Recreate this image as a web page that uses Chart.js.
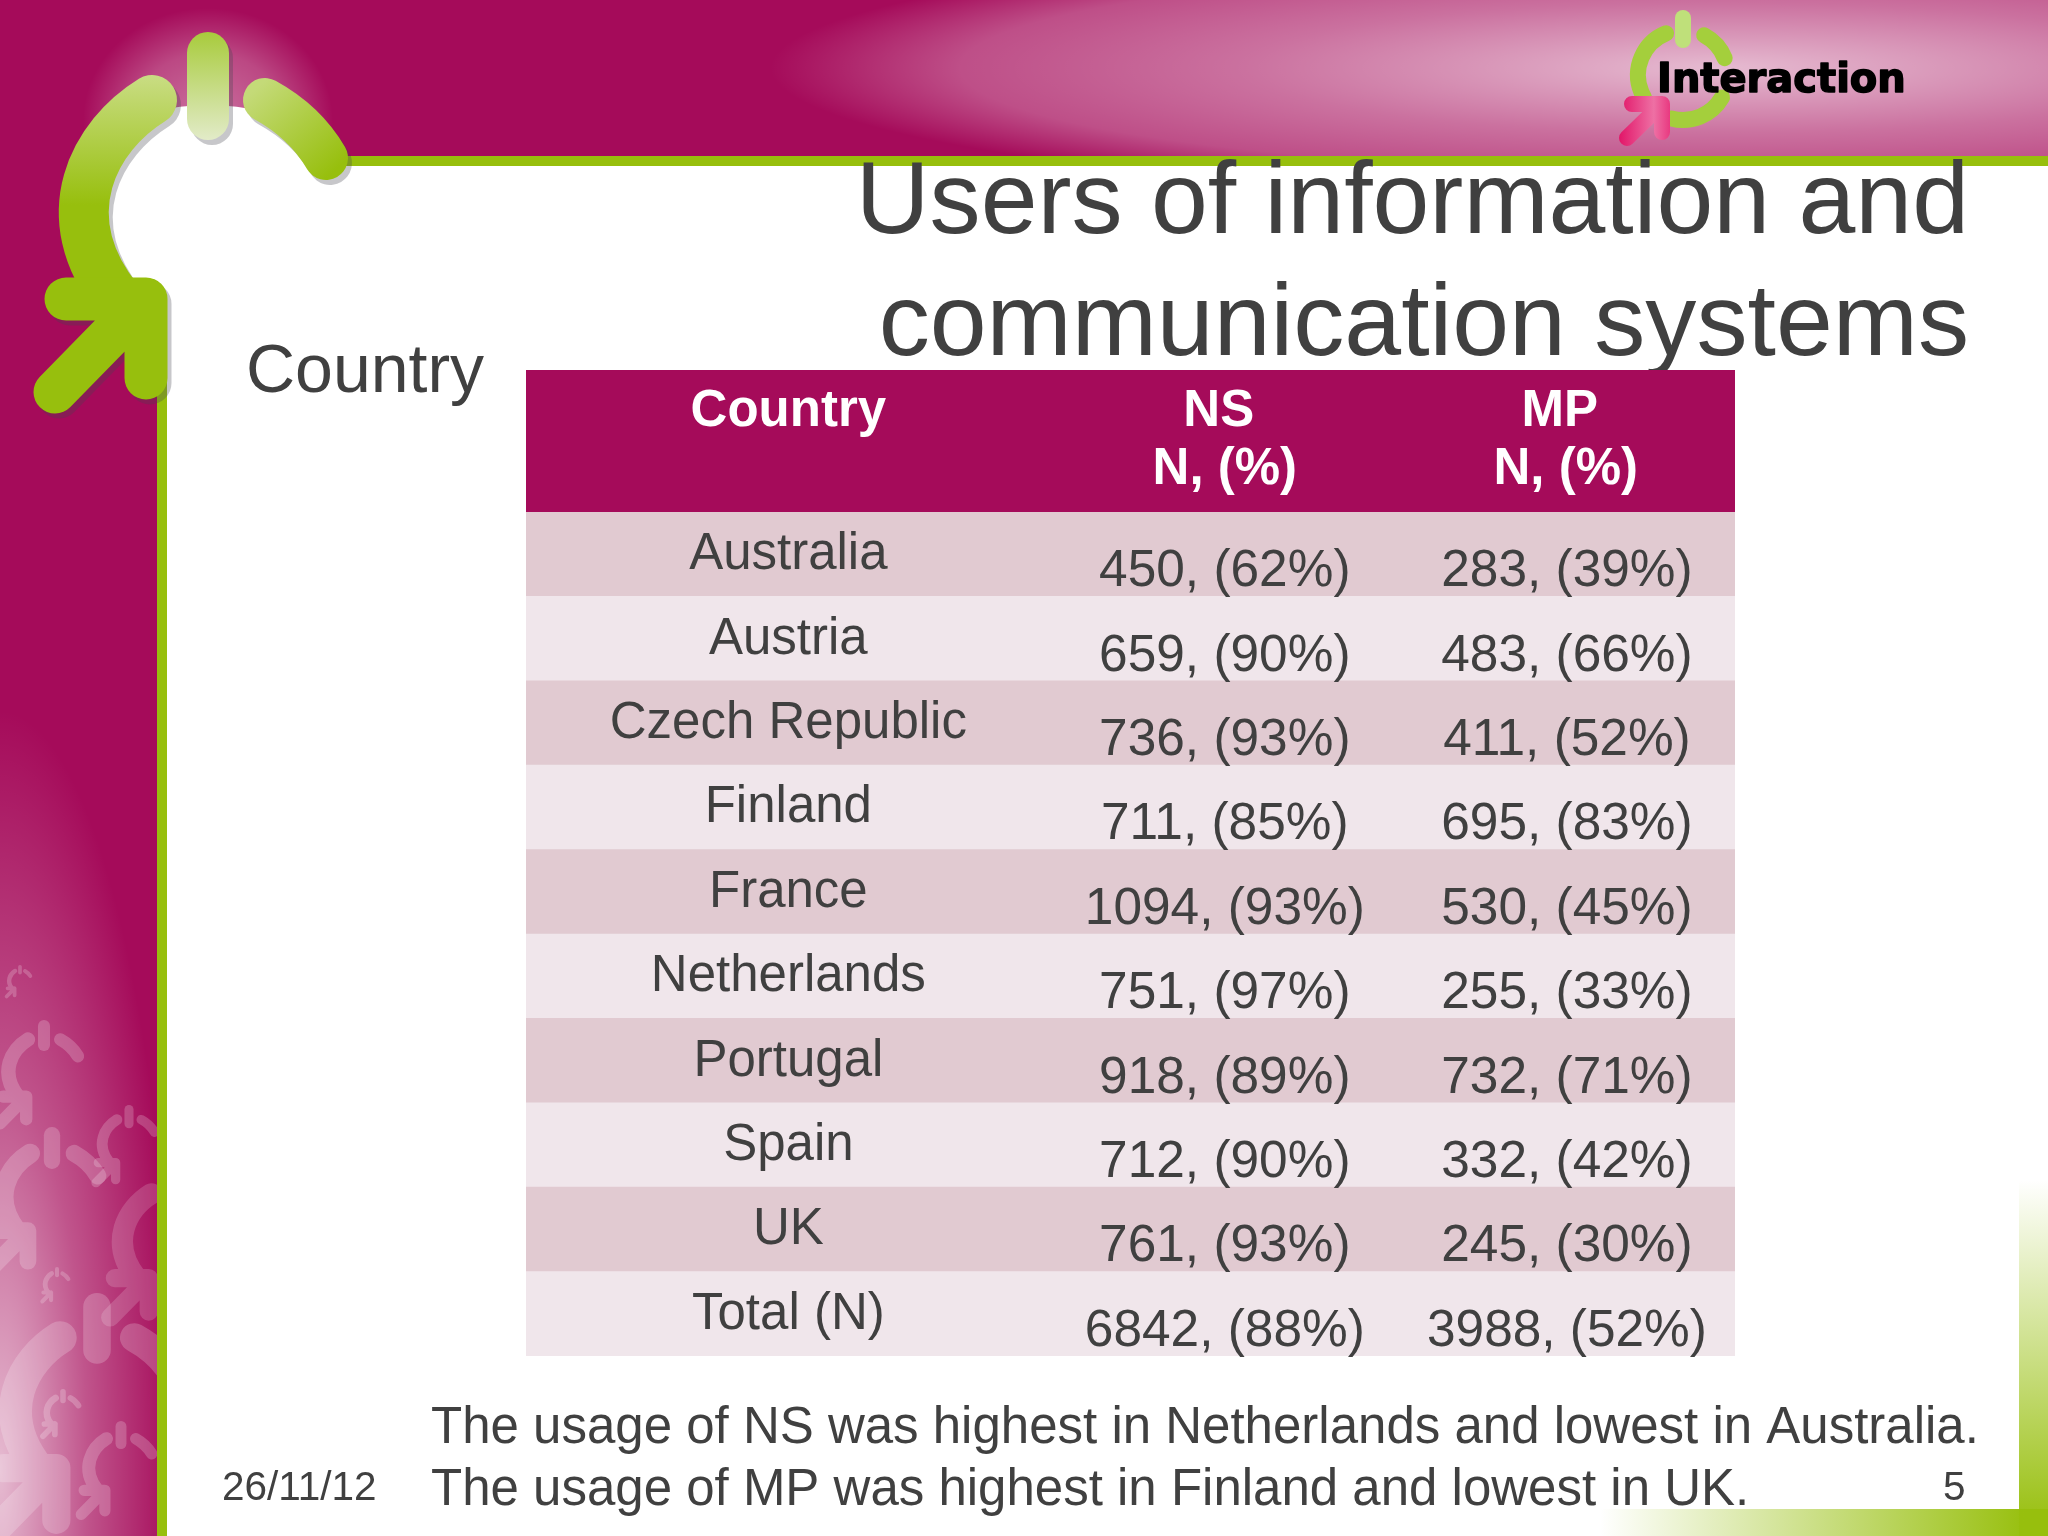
<!DOCTYPE html>
<html>
<head>
<meta charset="utf-8">
<title>Users of information and communication systems</title>
<script src="https://cdn.jsdelivr.net/npm/chart.js@4/dist/chart.umd.min.js"></script>
<style>
	html, body { margin: 0; padding: 0; background: #fff; }
	#slide { position: absolute; left: 0; top: 0; width: 2048px; height: 1536px; }
</style>
</head>
<body>
<div id="slide"><canvas id="tableChart" width="2048" height="1536"></canvas></div>
<script>
/* table data */
var countries = ["Australia", "Austria", "Czech Republic", "Finland", "France", "Netherlands", "Portugal", "Spain", "UK", "Total (N)"];
var nsCounts = [450, 659, 736, 711, 1094, 751, 918, 712, 761, 6842];
var nsPercents = [62, 90, 93, 85, 93, 97, 89, 90, 93, 88];
var mpCounts = [283, 483, 411, 695, 530, 255, 732, 332, 245, 3988];
var mpPercents = [39, 66, 52, 83, 45, 33, 71, 42, 30, 52];
var headerLabels = ["Country", "NS", "MP"];
var headerUnits = ["", "N, (%)", "N, (%)"];

var titleLines = ["Users of information and", "communication systems"];
var sideLabel = "Country";
var noteLines = [
	"The usage of NS was highest in Netherlands and lowest in Australia.",
	"The usage of MP was highest in Finland and lowest in UK."
];
var dateLabel = "26/11/12";
var pageLabel = "5";
var logoLabel = "Interaction";

var MAGENTA = "#a50b5a";
var GREEN = "#97bf0d";
var TEXT = "#404040";
var FONT = '"Liberation Sans", Arial, sans-serif';

/*---------------------
 ----- SLIDE ARTWORK -----
 ---------------------*/

// the power symbol, in the coordinates of the big logo top left
function strokeSymbolParts(ctx, leftStyle, rightStyle, stemStyle, arrowStyle) {
	ctx.lineCap = "round";
	ctx.lineJoin = "round";

	ctx.strokeStyle = leftStyle;
	ctx.lineWidth = 50;
	ctx.beginPath();
	ctx.moveTo(152, 100);
	ctx.bezierCurveTo(95, 135, 50, 215, 118, 300);
	ctx.stroke();

	ctx.strokeStyle = rightStyle;
	ctx.lineWidth = 44;
	ctx.beginPath();
	ctx.moveTo(265, 100);
	ctx.quadraticCurveTo(305, 122, 326, 158);
	ctx.stroke();

	ctx.strokeStyle = stemStyle;
	ctx.lineWidth = 42;
	ctx.beginPath();
	ctx.moveTo(208, 53);
	ctx.lineTo(208, 119);
	ctx.stroke();

	ctx.strokeStyle = arrowStyle;
	ctx.lineWidth = 43;
	ctx.beginPath();
	ctx.moveTo(66, 299);
	ctx.lineTo(146, 299);
	ctx.lineTo(146, 378);
	ctx.moveTo(146, 299);
	ctx.lineTo(55, 392);
	ctx.stroke();
}

// faded copies on the left column
var faded = document.createElement("canvas");
faded.width = 157;
faded.height = 1536;

function drawFadedSymbol(ctx, stemX, top, height, alpha) {
	var fctx = faded.getContext("2d");
	var s = height / 366;
	fctx.setTransform(1, 0, 0, 1, 0, 0);
	fctx.clearRect(0, 0, faded.width, faded.height);
	fctx.setTransform(s, 0, 0, s, stemX - 208 * s, top - 32 * s);
	strokeSymbolParts(fctx, "#fff", "#fff", "#fff", "#fff");
	ctx.save();
	ctx.globalAlpha = alpha;
	ctx.drawImage(faded, 0, 0);
	ctx.restore();
}

function drawEllipseGlow(ctx, cx, cy, rx, ry, stops) {
	ctx.save();
	ctx.translate(cx, cy);
	ctx.scale(rx, ry);
	var g = ctx.createRadialGradient(0, 0, 0, 0, 0, 1);
	stops.forEach(function (stop) {
		g.addColorStop(stop[0], "rgba(255,255,255," + stop[1] + ")");
	});
	ctx.fillStyle = g;
	ctx.fillRect(-cx / rx, -cy / ry, 2048 / rx, 1536 / ry);
	ctx.restore();
}

function drawSmallLogo(ctx) {
	var cx = 1683, cy = 75, r = 45;
	var rad = Math.PI / 180;
	ctx.save();
	ctx.lineCap = "round";
	ctx.lineWidth = 16;
	ctx.strokeStyle = "#a4cf3c";
	ctx.beginPath();
	ctx.arc(cx, cy, r, -112 * rad, 150 * rad, true);
	ctx.stroke();
	ctx.beginPath();
	ctx.arc(cx, cy, r, -62 * rad, -22 * rad);
	ctx.stroke();
	ctx.beginPath();
	ctx.arc(cx, cy, r, 30 * rad, 105 * rad);
	ctx.stroke();
	ctx.strokeStyle = "#bfe07a";
	ctx.beginPath();
	ctx.moveTo(1683, 18);
	ctx.lineTo(1683, 40);
	ctx.stroke();

	var pink = ctx.createLinearGradient(1620, 0, 1672, 0);
	pink.addColorStop(0, "#e2186a");
	pink.addColorStop(0.65, "#ee70a4");
	pink.addColorStop(1, "#e8327c");
	ctx.strokeStyle = pink;
	ctx.lineWidth = 16;
	ctx.lineJoin = "round";
	ctx.beginPath();
	ctx.moveTo(1632, 104);
	ctx.lineTo(1662, 104);
	ctx.lineTo(1662, 132);
	ctx.moveTo(1662, 104);
	ctx.lineTo(1627, 138);
	ctx.stroke();

	ctx.fillStyle = "#000";
	ctx.strokeStyle = "#000";
	ctx.lineWidth = 1.5;
	ctx.font = 'bold 40px "DejaVu Sans"';
	ctx.textAlign = "left";
	ctx.textBaseline = "alphabetic";
	ctx.fillText(logoLabel, 1657, 92, 252);
	ctx.strokeText(logoLabel, 1657, 92, 252);
	ctx.restore();
}

function drawArtwork(ctx) {
	ctx.fillStyle = "#fff";
	ctx.fillRect(0, 0, 2048, 1536);

	// magenta frame
	ctx.fillStyle = MAGENTA;
	ctx.fillRect(0, 0, 2048, 156);
	ctx.fillRect(0, 0, 157, 1536);

	// light band in the top bar
	ctx.save();
	ctx.beginPath();
	ctx.rect(0, 0, 2048, 156);
	ctx.clip();
	drawEllipseGlow(ctx, 1720, 68, 950, 130, [[0, 0.72], [0.5, 0.42], [0.8, 0.28], [1, 0]]);
	ctx.restore();

	// light cloud and symbols in the left column
	ctx.save();
	ctx.beginPath();
	ctx.rect(0, 0, 157, 1536);
	ctx.clip();
	drawEllipseGlow(ctx, 0, 1470, 175, 760, [[0, 0.72], [0.5, 0.3], [1, 0]]);
	drawFadedSymbol(ctx, 20, 965, 32, 0.2);
	drawFadedSymbol(ctx, 44, 1020, 105, 0.2);
	drawFadedSymbol(ctx, 129, 1105, 79, 0.2);
	drawFadedSymbol(ctx, 52, 1127, 142, 0.2);
	drawFadedSymbol(ctx, 57, 1267, 35, 0.2);
	drawFadedSymbol(ctx, 175, 1165, 155, 0.16);
	drawFadedSymbol(ctx, 97, 1293, 240, 0.2);
	drawFadedSymbol(ctx, 63, 1389, 48, 0.22);
	drawFadedSymbol(ctx, 121, 1421, 95, 0.2);
	ctx.restore();

	// glow behind the big logo
	ctx.save();
	ctx.beginPath();
	ctx.rect(0, 0, 400, 200);
	ctx.clip();
	drawEllipseGlow(ctx, 208, 120, 125, 112, [[0, 0.42], [0.6, 0.25], [1, 0]]);
	ctx.restore();

	// green rules
	ctx.fillStyle = GREEN;
	ctx.fillRect(157, 156, 1891, 10);
	ctx.fillRect(157, 156, 10, 1380);

	// green corner, bottom right
	var side = ctx.createLinearGradient(0, 1180, 0, 1530);
	side.addColorStop(0, "rgba(151,191,13,0)");
	side.addColorStop(1, "rgba(151,191,13,1)");
	ctx.fillStyle = side;
	ctx.fillRect(2019, 1180, 29, 356);
	var foot = ctx.createLinearGradient(1600, 0, 2030, 0);
	foot.addColorStop(0, "rgba(151,191,13,0)");
	foot.addColorStop(1, "rgba(151,191,13,1)");
	ctx.fillStyle = foot;
	ctx.fillRect(1600, 1509, 448, 27);

	// white inside the big logo
	ctx.fillStyle = "#fff";
	ctx.beginPath();
	ctx.moveTo(152, 112);
	ctx.bezierCurveTo(95, 135, 50, 215, 118, 300);
	ctx.lineTo(170, 300);
	ctx.lineTo(170, 170);
	ctx.lineTo(326, 170);
	ctx.lineTo(326, 158);
	ctx.quadraticCurveTo(305, 122, 265, 112);
	ctx.quadraticCurveTo(208, 98, 152, 112);
	ctx.closePath();
	ctx.fill();

	// big logo, shadow first
	var leftFade = ctx.createLinearGradient(0, 70, 0, 205);
	leftFade.addColorStop(0, "#cbde88");
	leftFade.addColorStop(1, GREEN);
	var rightFade = ctx.createLinearGradient(260, 85, 335, 170);
	rightFade.addColorStop(0, "#c4da78");
	rightFade.addColorStop(1, GREEN);
	var stemFade = ctx.createLinearGradient(0, 32, 0, 140);
	stemFade.addColorStop(0, "#a8cb3c");
	stemFade.addColorStop(1, "#e2ebc8");
	ctx.save();
	ctx.translate(4, 5);
	var shade = "rgba(70,70,80,0.3)";
	strokeSymbolParts(ctx, shade, shade, shade, shade);
	ctx.restore();
	strokeSymbolParts(ctx, leftFade, rightFade, stemFade, GREEN);

	drawSmallLogo(ctx);

	// slide title and the side label sit on the artwork, under the table
	ctx.fillStyle = TEXT;
	ctx.textBaseline = "alphabetic";
	ctx.textAlign = "right";
	ctx.font = "102.2px " + FONT;
	ctx.fillText(titleLines[0], 1969, 233);
	ctx.fillText(titleLines[1], 1969, 355);
	ctx.textAlign = "left";
	ctx.font = "68px " + FONT;
	ctx.fillText(sideLabel, 246, 392);
}

/*---------------------
 ----- TABLE CHART -----
 ---------------------*/

// every row is one full width bar; text follows the same scales
var COLUMN_CENTRES = [21.7, 57.8, 86.1];
var HEADER_CENTRES = [21.7, 57.3, 85.5];
var UNIT_CENTRES = [21.7, 57.8, 86.0];
var HEADER_HEIGHT = 142;

var tablePlugin = {
	id: "slideTable",
	beforeDatasetsDraw: function (chart) {
		drawArtwork(chart.ctx);
	},
	afterDatasetsDraw: function (chart) {
		var ctx = chart.ctx;
		var xScale = chart.scales.x;
		var yScale = chart.scales.y;
		var left = xScale.getPixelForValue(0);
		var right = xScale.getPixelForValue(100);
		var top = chart.chartArea.top;
		var i;

		ctx.save();
		ctx.fillStyle = MAGENTA;
		ctx.fillRect(left, top - HEADER_HEIGHT, right - left, HEADER_HEIGHT);

		ctx.textAlign = "center";
		ctx.textBaseline = "alphabetic";
		ctx.fillStyle = "#fff";
		ctx.font = "bold 51px " + FONT;
		for (i = 0; i < headerLabels.length; i++) {
			ctx.fillText(headerLabels[i], xScale.getPixelForValue(HEADER_CENTRES[i]), top - 86);
			if (headerUnits[i]) {
				ctx.fillText(headerUnits[i], xScale.getPixelForValue(UNIT_CENTRES[i]), top - 28);
			}
		}

		var firstCol = xScale.getPixelForValue(COLUMN_CENTRES[0]);
		var nsCol = xScale.getPixelForValue(COLUMN_CENTRES[1]);
		var mpCol = xScale.getPixelForValue(COLUMN_CENTRES[2]);
		ctx.fillStyle = TEXT;
		for (i = 0; i < countries.length; i++) {
			var rowY = yScale.getPixelForValue(i);
			ctx.font = "51px " + FONT;
			ctx.fillText(countries[i], firstCol, rowY + 15);
			ctx.font = "51.4px " + FONT;
			ctx.fillText(nsCounts[i] + ", (" + nsPercents[i] + "%)", nsCol, rowY + 32);
			ctx.fillText(mpCounts[i] + ", (" + mpPercents[i] + "%)", mpCol, rowY + 32);
		}

		// notes and footer
		ctx.textAlign = "left";
		ctx.font = "51px " + FONT;
		ctx.fillText(noteLines[0], 431, 1443);
		ctx.fillText(noteLines[1], 431, 1505);
		ctx.font = "40.5px " + FONT;
		ctx.fillText(dateLabel, 222, 1500);
		ctx.fillText(pageLabel, 1943, 1500);
		ctx.restore();
	}
};

var rowBars = countries.map(function () { return 100; });
var rowColours = countries.map(function (c, i) { return i % 2 === 0 ? "#e1cad1" : "#f0e6eb"; });

var config = {
	type: "bar",
	data: {
		labels: countries,
		datasets: [{
			label: "Rows",
			data: rowBars,
			backgroundColor: rowColours,
			borderWidth: 0,
			barPercentage: 1,
			categoryPercentage: 1
		}]
	},
	options: {
		indexAxis: "y",
		responsive: false,
		animation: false,
		devicePixelRatio: 1,
		layout: {
			padding: { left: 526, right: 313, top: 512, bottom: 180 }
		},
		scales: {
			x: { display: false, min: 0, max: 100 },
			y: { display: false }
		},
		plugins: {
			legend: { display: false },
			title: { display: false },
			tooltip: { enabled: false }
		}
	},
	plugins: [tablePlugin]
};

var tableChart = new Chart(document.getElementById("tableChart").getContext("2d"), config);
</script>
</body>
</html>
